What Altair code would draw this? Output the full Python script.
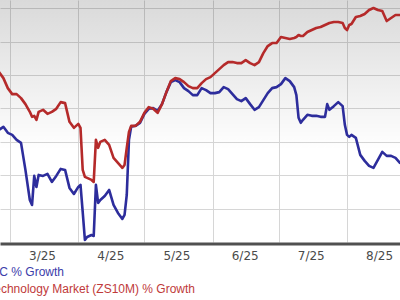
import altair as alt
import pandas as pd

# ---- data ----
dates = [
    "2025-02-24", "2025-02-26", "2025-02-28", "2025-03-02", "2025-03-04", "2025-03-06",
    "2025-03-08", "2025-03-10", "2025-03-11", "2025-03-12", "2025-03-13", "2025-03-14",
    "2025-03-16", "2025-03-18", "2025-03-20", "2025-03-22", "2025-03-24", "2025-03-26",
    "2025-03-28", "2025-03-30", "2025-04-01", "2025-04-02", "2025-04-03", "2025-04-04",
    "2025-04-05", "2025-04-07", "2025-04-08", "2025-04-09", "2025-04-10", "2025-04-11",
    "2025-04-13", "2025-04-15", "2025-04-17", "2025-04-19", "2025-04-21", "2025-04-22",
    "2025-04-23", "2025-04-24", "2025-04-25", "2025-04-27", "2025-04-29", "2025-05-01",
    "2025-05-03", "2025-05-05", "2025-05-07", "2025-05-09", "2025-05-11", "2025-05-13",
    "2025-05-15", "2025-05-17", "2025-05-19", "2025-05-21", "2025-05-23", "2025-05-25",
    "2025-05-27", "2025-05-29", "2025-05-31", "2025-06-02", "2025-06-04", "2025-06-06",
    "2025-06-08", "2025-06-10", "2025-06-12", "2025-06-14", "2025-06-16", "2025-06-18",
    "2025-06-20", "2025-06-22", "2025-06-24", "2025-06-26", "2025-06-28", "2025-06-30",
    "2025-07-02", "2025-07-04", "2025-07-06", "2025-07-08", "2025-07-09", "2025-07-10",
    "2025-07-11", "2025-07-12", "2025-07-14", "2025-07-16", "2025-07-18", "2025-07-20",
    "2025-07-22", "2025-07-23", "2025-07-24", "2025-07-26", "2025-07-28", "2025-07-30",
    "2025-07-31", "2025-08-01", "2025-08-02", "2025-08-03", "2025-08-05", "2025-08-07",
    "2025-08-09", "2025-08-11", "2025-08-13", "2025-08-15", "2025-08-17", "2025-08-19",
    "2025-08-21", "2025-08-23", "2025-08-25", "2025-08-27",
]

market_growth = [
    10.9, 9.1, 6.1, 4.3, 4.3, 3.1, 1.3, -1.0, -2.5, -2.2, -3.4, -1.0,
    -0.4, -1.6, -1.0, -0.1, 1.9, 1.6, -4.0, -5.8, -4.6, -5.8, -18.4, -20.5,
    -20.8, -21.4, -22.0, -9.4, -11.8, -10.0, -9.4, -10.9, -14.8, -16.3, -17.8, -16.9,
    -11.8, -7.0, -5.2, -5.2, -4.0, -1.3, 0.4, -0.1, -1.3, 1.3, 4.9, 8.2,
    9.1, 8.8, 7.9, 6.7, 6.1, 6.1, 7.6, 8.8, 9.4, 10.6, 11.8, 13.0,
    13.9, 13.9, 13.6, 13.6, 14.5, 13.6, 13.0, 13.9, 16.6, 18.7, 19.6, 19.6,
    21.4, 21.1, 20.8, 21.1, 21.4, 22.0, 21.7, 21.7, 22.9, 23.5, 24.1, 24.4,
    25.0, 25.3, 25.6, 25.9, 25.9, 25.6, 24.1, 23.5, 25.0, 25.3, 27.4, 27.7,
    28.3, 29.5, 30.1, 29.5, 29.2, 26.2, 27.1, 28.0, 28.0, 28.0,
]

stock_growth = [
    -6.4, -5.5, -7.3, -7.9, -9.4, -10.3, -18.4, -27.4, -28.9, -20.2, -23.5, -19.9,
    -20.2, -19.6, -22.0, -20.2, -18.1, -18.4, -23.8, -25.6, -23.5, -22.9, -31.0, -39.4,
    -38.5, -37.9, -38.2, -22.9, -28.3, -27.4, -26.2, -24.4, -28.9, -31.3, -33.1, -31.9,
    -25.9, -9.4, -5.5, -5.2, -4.3, -1.6, -0.1, 0.1, -0.7, 1.3, 4.9, 7.9,
    8.5, 7.9, 6.1, 5.2, 4.0, 4.0, 6.1, 5.5, 4.6, 4.6, 4.9, 6.4,
    5.8, 4.3, 2.8, 2.2, 3.1, 1.3, -0.4, 0.4, 2.5, 4.6, 6.1, 6.4,
    7.3, 9.1, 8.2, 6.4, 4.0, -2.8, -4.3, -3.4, -1.9, -2.2, -2.2, -2.5,
    -2.5, 1.3, -0.4, 0.7, 1.9, 0.7, -4.9, -7.9, -8.5, -7.9, -8.8, -13.9,
    -15.7, -17.2, -17.8, -15.4, -13.0, -14.2, -14.2, -14.8, -16.3, -16.9,
]

month_ticks = [(2025, 3), (2025, 4), (2025, 5), (2025, 6), (2025, 7), (2025, 8)]
y_grid_values = [-30, -20, -10, 0, 10, 20, 30]
legend_labels = ["SMTC % Growth", "Computer and Technology Market (ZS10M) % Growth"]

BLUE = "#2d2d9c"
RED = "#b52a2a"

W, H = 400, 242

stock_df = pd.DataFrame({"date": dates, "growth": stock_growth})
market_df = pd.DataFrame({"date": dates, "growth": market_growth})

x_scale = alt.Scale(
    type="utc",
    domain=[
        alt.DateTime(year=2025, month=2, date=24, hours=11, utc=True),
        alt.DateTime(year=2025, month=8, date=25, hours=1, utc=True),
    ],
)
y_scale = alt.Scale(domain=[-40, 32.5], nice=False, zero=False)

x_axis = alt.Axis(
    values=[alt.DateTime(year=y, month=m, date=1, utc=True) for y, m in month_ticks],
    format="%-m/%y",
    formatType="time",
    labelOffset=32,
    labelPadding=7,
    labelFlush=False,
    labelFont="DejaVu Sans",
    labelFontSize=12,
    labelColor="#4a4a4a",
    ticks=False,
    domainColor="#505050",
    domainWidth=3,
    offset=1.5,
    grid=True,
    gridColor="#d6d6d6",
    gridWidth=1,
    title=None,
)
y_axis = alt.Axis(
    values=y_grid_values,
    labels=False,
    ticks=False,
    domain=False,
    grid=True,
    gridColor="#d6d6d6",
    gridWidth=1,
    title=None,
)

background = alt.Chart(alt.Data(values=[{}])).mark_rect(
    fill={
        "gradient": "linear",
        "x1": 0, "y1": 0, "x2": 0, "y2": 1,
        "stops": [
            {"offset": 0, "color": "rgba(0,0,0,0.15)"},
            {"offset": 0.62, "color": "rgba(0,0,0,0)"},
        ],
    }
).encode(x=alt.value(0), x2=alt.value(W), y=alt.value(0), y2=alt.value(H))

def series_line(df, color):
    return alt.Chart(df).mark_line(
        color=color, strokeWidth=2.6, strokeJoin="round", clip=True
    ).encode(
        x=alt.X("date:T", scale=x_scale, axis=x_axis),
        y=alt.Y("growth:Q", scale=y_scale, axis=y_axis),
    )

stock_line = series_line(stock_df, BLUE)
market_line = series_line(market_df, RED)

legend_stock = alt.Chart(alt.Data(values=[{"label": legend_labels[0]}])).mark_text(
    align="right", baseline="alphabetic", font="Liberation Sans", fontSize=12, color="#3c3caa"
).encode(text="label:N", x=alt.value(64), y=alt.value(276))

legend_market = alt.Chart(alt.Data(values=[{"label": legend_labels[1]}])).mark_text(
    align="right", baseline="alphabetic", font="Liberation Sans", fontSize=12, color="#c03a3a"
).encode(text="label:N", x=alt.value(195), y=alt.value(293))

chart = alt.layer(
    background, stock_line, market_line, legend_stock, legend_market
).properties(
    width=W,
    height=H,
    padding={"left": 0, "top": 0, "right": 0, "bottom": 58},
    autosize=alt.AutoSizeParams(type="none"),
    background="white",
).configure_view(stroke=None)

chart.save("out.html", embed_options={"renderer": "svg", "actions": False})
